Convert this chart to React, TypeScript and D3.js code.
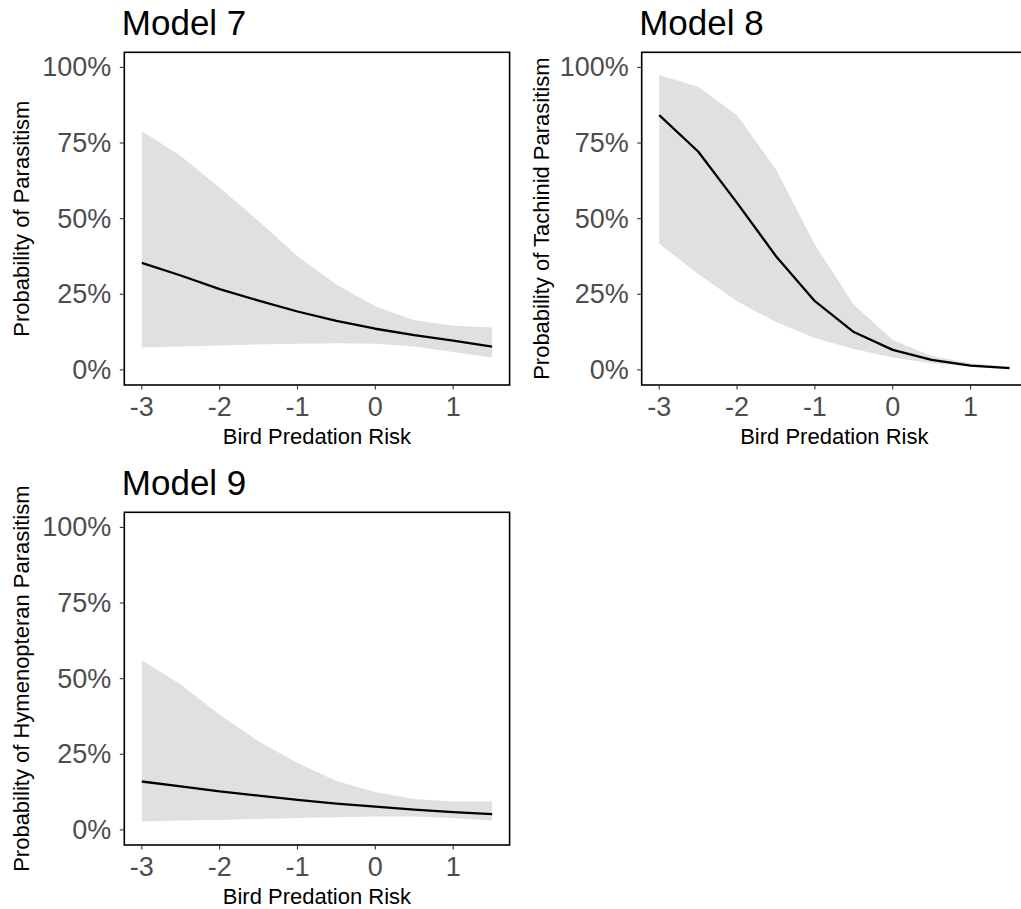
import * as d3 from 'd3';
import React, { useRef, useEffect } from 'react';

// bird predation risk values (x)
const riskLevels = [-3, -2.5, -2, -1.5, -1, -0.5, 0, 0.5, 1, 1.5];
const xTicks = [-3, -2, -1, 0, 1];
const yTicks = [0, 0.25, 0.5, 0.75, 1];

// Model 7
const m7Fit = [0.354, 0.312, 0.267, 0.229, 0.193, 0.162, 0.136, 0.115, 0.097, 0.077];
const m7Upper = [0.790, 0.707, 0.602, 0.492, 0.376, 0.282, 0.210, 0.164, 0.146, 0.140];
const m7Lower = [0.074, 0.077, 0.081, 0.084, 0.086, 0.088, 0.086, 0.077, 0.059, 0.041];

// Model 8
const m8Fit = [0.842, 0.722, 0.552, 0.376, 0.227, 0.125, 0.066, 0.033, 0.014, 0.006];
const m8Upper = [0.975, 0.936, 0.842, 0.663, 0.414, 0.215, 0.099, 0.046, 0.022, 0.011];
const m8Lower = [0.417, 0.317, 0.227, 0.158, 0.105, 0.069, 0.041, 0.022, 0.011, 0.004];

// Model 9
const m9Fit = [0.160, 0.144, 0.127, 0.113, 0.099, 0.087, 0.077, 0.067, 0.059, 0.052];
const m9Upper = [0.561, 0.481, 0.381, 0.293, 0.221, 0.162, 0.125, 0.102, 0.094, 0.094];
const m9Lower = [0.028, 0.031, 0.033, 0.036, 0.039, 0.042, 0.044, 0.044, 0.039, 0.030];

const panels = [
  { title: 'Model 7', yTitle: 'Probability of Parasitism', fit: m7Fit, upper: m7Upper, lower: m7Lower,
    left: 124.3, top: 52.3, yTitleX: 29 },
  { title: 'Model 8', yTitle: 'Probability of Tachinid Parasitism', fit: m8Fit, upper: m8Upper, lower: m8Lower,
    left: 641.7, top: 52.3, yTitleX: 549 },
  { title: 'Model 9', yTitle: 'Probability of Hymenopteran Parasitism', fit: m9Fit, upper: m9Upper, lower: m9Lower,
    left: 124.3, top: 512.3, yTitleX: 29 },
];

const W = 1021;
const H = 909;
const panelW = 385.3;
const panelH = 332.7;
const font = "'Liberation Sans', Arial, Helvetica, sans-serif";

export default function App() {
  const ref = useRef(null);

  useEffect(() => {
    const svg = d3.select(ref.current);
    svg.selectAll('*').remove();

    panels.forEach(p => {
      const x = d3.scaleLinear().domain([-3.225, 1.725]).range([p.left, p.left + panelW]);
      const y = d3.scaleLinear().domain([-0.05, 1.05]).range([p.top + panelH, p.top]);
      const g = svg.append('g');

      const rows = riskLevels.map((r, i) => ({ r, fit: p.fit[i], lo: p.lower[i], hi: p.upper[i] }));

      const area = d3.area<any>()
        .x(d => x(d.r))
        .y0(d => y(d.lo))
        .y1(d => y(d.hi));
      g.append('path').datum(rows).attr('d', area).attr('fill', '#e0e0e0');

      const line = d3.line<any>().x(d => x(d.r)).y(d => y(d.fit));
      g.append('path').datum(rows).attr('d', line)
        .attr('fill', 'none').attr('stroke', '#000').attr('stroke-width', 2.3)
        .attr('stroke-linejoin', 'round');

      // panel border
      g.append('rect')
        .attr('x', p.left).attr('y', p.top)
        .attr('width', panelW).attr('height', panelH)
        .attr('fill', 'none').attr('stroke', '#000').attr('stroke-width', 1.6);

      // y axis
      const yAxis = g.append('g');
      yTicks.forEach(t => {
        yAxis.append('line')
          .attr('x1', p.left - 4.5).attr('x2', p.left)
          .attr('y1', y(t)).attr('y2', y(t))
          .attr('stroke', '#333').attr('stroke-width', 1.1);
        yAxis.append('text')
          .attr('x', p.left - 13).attr('y', y(t))
          .attr('text-anchor', 'end').attr('dominant-baseline', 'central')
          .attr('font-family', font).attr('font-size', 27).attr('fill', '#4d4d4d')
          .text(d3.format('.0%')(t));
      });

      // x axis
      const xAxis = g.append('g');
      xTicks.forEach(t => {
        xAxis.append('line')
          .attr('x1', x(t)).attr('x2', x(t))
          .attr('y1', p.top + panelH).attr('y2', p.top + panelH + 4.5)
          .attr('stroke', '#333').attr('stroke-width', 1.1);
        xAxis.append('text')
          .attr('x', x(t)).attr('y', p.top + panelH + 31)
          .attr('text-anchor', 'middle')
          .attr('font-family', font).attr('font-size', 27).attr('fill', '#4d4d4d')
          .text(String(t));
      });

      g.append('text')
        .attr('x', p.left + panelW / 2).attr('y', p.top + panelH + 59)
        .attr('text-anchor', 'middle')
        .attr('font-family', font).attr('font-size', 22).attr('fill', '#000')
        .text('Bird Predation Risk');

      g.append('text')
        .attr('transform', `translate(${p.yTitleX},${p.top + panelH / 2}) rotate(-90)`)
        .attr('text-anchor', 'middle')
        .attr('font-family', font).attr('font-size', 22).attr('fill', '#000')
        .text(p.yTitle);

      g.append('text')
        .attr('x', p.left - 2.5).attr('y', p.top - 17.5)
        .attr('font-family', font).attr('font-size', 35).attr('fill', '#000')
        .text(p.title);
    });
  }, []);

  return (
    <svg ref={ref} width={W} height={H}
      style={{ position: 'absolute', left: 0, top: 0, background: '#fff' }} />
  );
}
